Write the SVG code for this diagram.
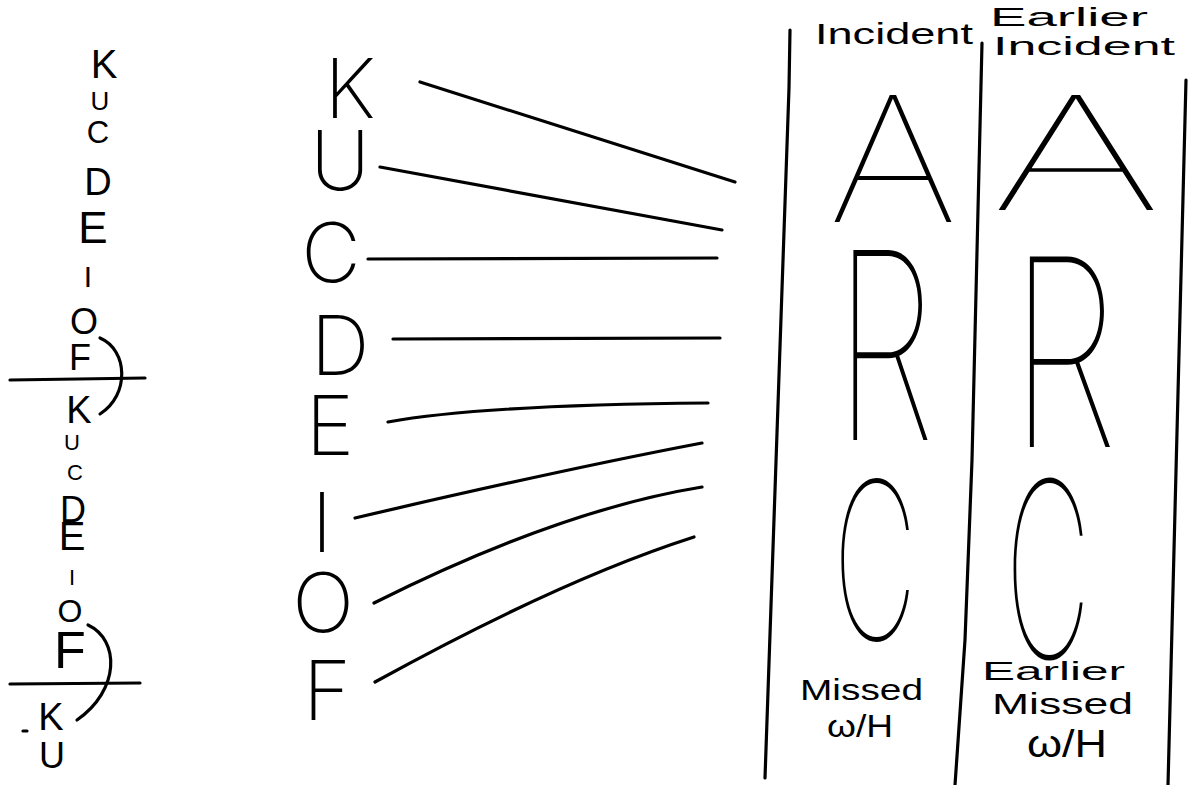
<svg xmlns="http://www.w3.org/2000/svg" width="1190" height="785" viewBox="0 0 1190 785">
<style>
.bg{fill:#fff}
.sm{font-family:"Liberation Sans","Noto Sans",sans-serif;fill:#000;text-anchor:middle}
.mid{font-family:Inter,Roboto,"Noto Sans",sans-serif;font-weight:200;font-size:82px;fill:#000;text-anchor:middle}
.big{font-family:Inter,Roboto,"Noto Sans",sans-serif;font-weight:100;fill:#000}
.hw{font-family:"Liberation Sans","Noto Sans",sans-serif;fill:#000}
.ln{fill:none;stroke:#000;stroke-width:3.2;stroke-linecap:round;stroke-linejoin:round}
</style>
<rect class="bg" x="0" y="0" width="1190" height="785"/>

<g id="left-sequence">
  <text class="sm" x="104" y="78" font-size="40">K</text>
  <text class="sm" x="100" y="110" font-size="26">U</text>
  <text class="sm" x="98" y="143" font-size="31">C</text>
  <text class="sm" x="98" y="195" font-size="38">D</text>
  <text class="sm" x="93" y="243" font-size="44">E</text>
  <text class="sm" x="88" y="287" font-size="30">I</text>
  <text class="sm" x="84" y="334" font-size="36">O</text>
  <text class="sm" x="80" y="370" font-size="36">F</text>
  <path class="ln" d="M10,380 L145,378"/>
  <path class="ln" d="M100,338 C128,350 130,395 100,414"/>
  <text class="sm" x="79" y="423" font-size="38">K</text>
  <text class="sm" x="72" y="450" font-size="22">U</text>
  <text class="sm" x="75" y="480" font-size="22">C</text>
  <text class="sm" x="73" y="522" font-size="36">D</text>
  <text class="sm" x="72" y="550" font-size="40">E</text>
  <text class="sm" x="72" y="585" font-size="22">I</text>
  <text class="sm" x="70" y="622" font-size="32">O</text>
  <text class="sm" x="70" y="668" font-size="52">F</text>
  <path class="ln" d="M10,684 L140,683"/>
  <path class="ln" d="M88,625 C120,640 120,690 77,720"/>
  <text class="sm" x="51" y="730" font-size="38">K</text>
  <path class="ln" d="M23,731 L27,731"/>
  <text class="sm" x="52" y="768" font-size="36">U</text>
</g>

<g id="sequence">
  <text id="seq-K" class="mid" x="350" y="118">K</text>
  <text id="seq-U" class="mid" x="340" y="190">U</text>
  <text id="seq-C" class="mid" x="331" y="282">C</text>
  <text id="seq-D" class="mid" x="340" y="375">D</text>
  <text id="seq-E" class="mid" x="330" y="455">E</text>
  <text id="seq-I" class="mid" x="322" y="552">I</text>
  <text id="seq-O" class="mid" x="323" y="632">O</text>
  <text id="seq-F" class="mid" x="327" y="720">F</text>
</g>

<g id="connectors">
  <path class="ln" d="M420,82 L735,182"/>
  <path class="ln" d="M380,167 Q560,200 722,230"/>
  <path class="ln" d="M368,259 L717,258"/>
  <path class="ln" d="M393,339 L720,338"/>
  <path class="ln" d="M388,422 Q480,405 708,403"/>
  <path class="ln" d="M355,518 Q560,470 702,443"/>
  <path class="ln" d="M374,603 Q560,510 702,487"/>
  <path class="ln" d="M375,682 Q560,580 694,537"/>
</g>

<g id="dividers">
  <path class="ln" d="M790,30 L789,88 L765,778"/>
  <path class="ln" d="M982,43 L972,460 L965,640 L955,785"/>
  <path class="ln" d="M1186,80 L1168,785"/>
</g>

<g id="incident-column">
  <text class="hw" x="815" y="44" font-size="30" textLength="158" lengthAdjust="spacingAndGlyphs">Incident</text>
  <text class="big" x="828" y="222" font-size="175" textLength="130" lengthAdjust="spacingAndGlyphs">A</text>
  <text class="big" x="835" y="440" font-size="261" textLength="100" lengthAdjust="spacingAndGlyphs">R</text>
  <text class="big" x="833" y="640" font-size="220" textLength="84" lengthAdjust="spacingAndGlyphs">C</text>
  <text class="hw" x="800" y="700" font-size="30" textLength="123" lengthAdjust="spacingAndGlyphs">Missed</text>
  <text class="hw" x="827" y="737" font-size="32" textLength="66" lengthAdjust="spacingAndGlyphs">ω/H</text>
</g>

<g id="earlier-column">
  <text class="hw" x="990" y="26" font-size="26" textLength="158" lengthAdjust="spacingAndGlyphs">Earlier</text>
  <text class="hw" x="993" y="55" font-size="26" textLength="182" lengthAdjust="spacingAndGlyphs">Incident</text>
  <text class="big" x="990" y="210" font-size="158" textLength="172" lengthAdjust="spacingAndGlyphs">A</text>
  <text class="big" x="1010" y="447" font-size="262" textLength="108" lengthAdjust="spacingAndGlyphs">R</text>
  <text class="big" x="1005" y="658" font-size="245" textLength="86" lengthAdjust="spacingAndGlyphs">C</text>
  <text class="hw" x="982" y="680" font-size="26" textLength="143" lengthAdjust="spacingAndGlyphs">Earlier</text>
  <text class="hw" x="992" y="714" font-size="30" textLength="141" lengthAdjust="spacingAndGlyphs">Missed</text>
  <text class="hw" x="1027" y="757" font-size="38" textLength="80" lengthAdjust="spacingAndGlyphs">ω/H</text>
</g>
</svg>
